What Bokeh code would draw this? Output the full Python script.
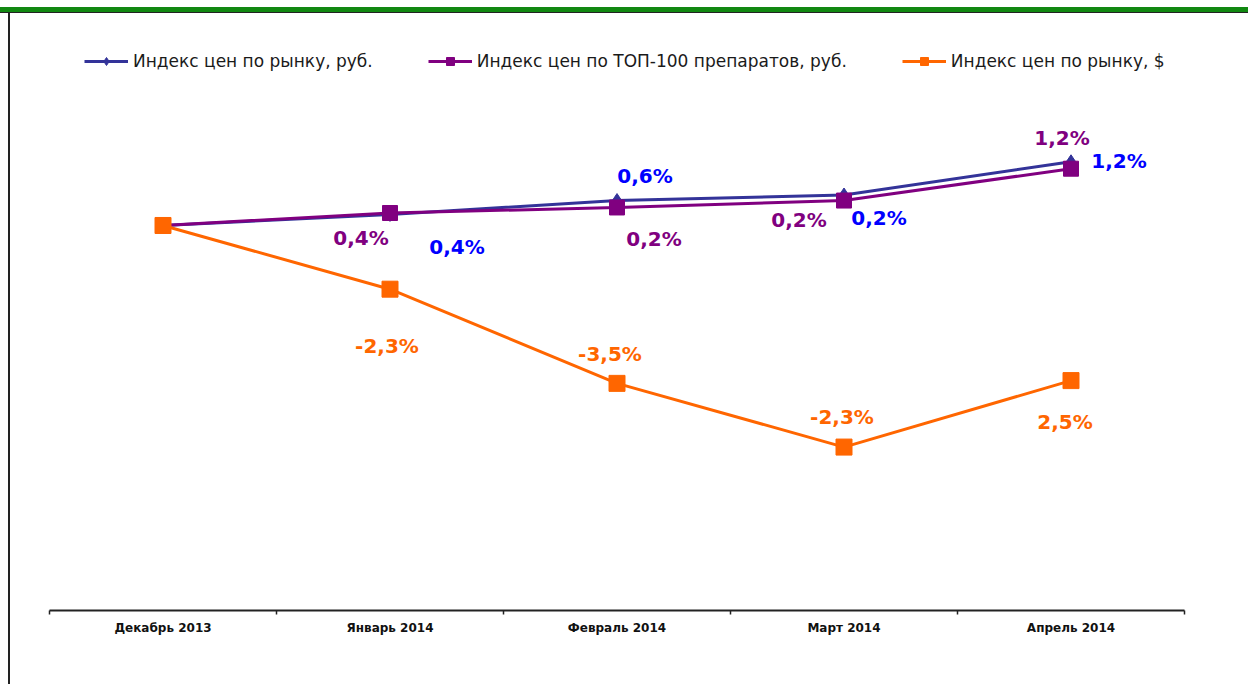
from bokeh.plotting import figure
from bokeh.models import Range1d, FixedTicker, Legend, LegendItem, ColumnDataSource, Div
from bokeh.layouts import column, row
from bokeh.core.properties import value
from bokeh.embed import file_html
from bokeh.resources import INLINE

# ---- data ----
months = ["Декабрь 2013", "Январь 2014", "Февраль 2014", "Март 2014", "Апрель 2014"]
names = ["Индекс цен по рынку, руб.", "Индекс цен по ТОП-100 препаратов, руб.", "Индекс цен по рынку, $"]
market_rub = [100.0, 100.4, 100.9, 101.1, 102.3]
top100_rub = [100.0, 100.45, 100.65, 100.9, 102.05]
market_usd = [100.0, 97.7, 94.3, 92.0, 94.4]
market_rub_lbl = ["", "0,4%", "0,6%", "0,2%", "1,2%"]
top100_rub_lbl = ["", "0,4%", "0,2%", "0,2%", "1,2%"]
market_usd_lbl = ["", "-2,3%", "-3,5%", "-2,3%", "2,5%"]

# ---- styles / label placement (screen px) ----
C_BLUE_LINE, C_BLUE_TXT = "#333399", "#0000FF"
C_PURPLE = "#800080"
C_ORANGE = "#FF6600"
off_blue = ([67, 28, 35, 48], [33, -25, 23, -1])
off_purple = ([-29, 37, -45, -9], [25, 32, 19, -31])
off_orange = ([-3, -7, -2, -6], [57, -29, -30, 41])

TOP_H, LEFT_W = 13, 10
W, H = 1240 - LEFT_W, 676 - TOP_H
p = figure(width=W, height=H, output_backend="svg", toolbar_location=None,
           x_range=Range1d(-0.5, len(months) - 0.5), y_range=Range1d(86.1, 107.4),
           y_axis_location=None, min_border_left=39, min_border_right=56,
           min_border_top=7, min_border_bottom=66)
p.outline_line_color = None
p.grid.visible = False
p.background_fill_color = "white"
p.border_fill_color = "white"

xs = list(range(len(months)))

ax = p.xaxis[0]
ax.ticker = FixedTicker(ticks=xs, minor_ticks=[i - 0.5 for i in range(len(months) + 1)])
ax.major_label_overrides = {i: m for i, m in enumerate(months)}
ax.major_tick_out = 0
ax.major_tick_in = 0
ax.minor_tick_out = 4
ax.minor_tick_in = 0
ax.minor_tick_line_color = "#222222"
ax.minor_tick_line_width = 1.5
ax.axis_line_color = "#222222"
ax.axis_line_width = 2
ax.major_label_standoff = 6
ax.major_label_text_font = "DejaVu Sans"
ax.major_label_text_font_style = "bold"
ax.major_label_text_font_size = "12px"
ax.major_label_text_color = "#111111"

# lines
r_b_l = p.line(xs, market_rub, line_color=C_BLUE_LINE, line_width=3)
r_b_m = p.scatter(xs, market_rub, marker="diamond", size=14, fill_color=C_BLUE_LINE, line_color=C_BLUE_LINE)
r_p_l = p.line(xs, top100_rub, line_color=C_PURPLE, line_width=3)
r_p_m = p.scatter(xs, top100_rub, marker="square", size=15, fill_color=C_PURPLE, line_color=C_PURPLE)
r_o_l = p.line(xs, market_usd, line_color=C_ORANGE, line_width=3)
r_o_m = p.scatter(xs, market_usd, marker="square", size=16, fill_color=C_ORANGE, line_color=C_ORANGE)

def add_labels(vals, lbls, offs, color):
    src = ColumnDataSource(dict(x=xs[1:], y=vals[1:], t=lbls[1:], xo=offs[0], yo=offs[1]))
    p.text(x="x", y="y", text="t", x_offset="xo", y_offset="yo", source=src,
           text_font=value("DejaVu Sans"), text_font_style="bold", text_font_size="20px",
           text_color=color, text_align="center", text_baseline="middle")

add_labels(market_rub, market_rub_lbl, off_blue, C_BLUE_TXT)
add_labels(top100_rub, top100_rub_lbl, off_purple, C_PURPLE)
add_labels(market_usd, market_usd_lbl, off_orange, C_ORANGE)

legend = Legend(items=[LegendItem(label=names[0], renderers=[r_b_l, r_b_m]),
                       LegendItem(label=names[1], renderers=[r_p_l, r_p_m]),
                       LegendItem(label=names[2], renderers=[r_o_l, r_o_m])],
                orientation="horizontal", location=(35, 539))
legend.border_line_color = None
legend.background_fill_alpha = 0
legend.padding = 0
legend.margin = 0
legend.spacing = 55
legend.label_standoff = 5
legend.glyph_width = 44
legend.glyph_height = 20
legend.label_height = 20
legend.label_text_font = "DejaVu Sans"
legend.label_text_font_size = "17px"
legend.label_text_color = "#1a1a1a"
p.add_layout(legend)

# frame decorations: green band on top, dark border on the left
top_bar = Div(text="", width=1248, height=TOP_H,
              styles={"background": "linear-gradient(to bottom, #ffffff 0px, #ffffff 7px, #118811 7px, #118811 12px, #222222 12px, #222222 13px)",
                      "margin": "0", "padding": "0"})
left_bar = Div(text="", width=LEFT_W, height=H + 8,
               styles={"background": "linear-gradient(to right, #ffffff 0px, #ffffff 8px, #222222 8px, #222222 10px)",
                       "margin": "0", "padding": "0"})
layout = column(top_bar, row(left_bar, p, spacing=0), spacing=0)

open("out.html", "w").write(file_html(layout, INLINE))
